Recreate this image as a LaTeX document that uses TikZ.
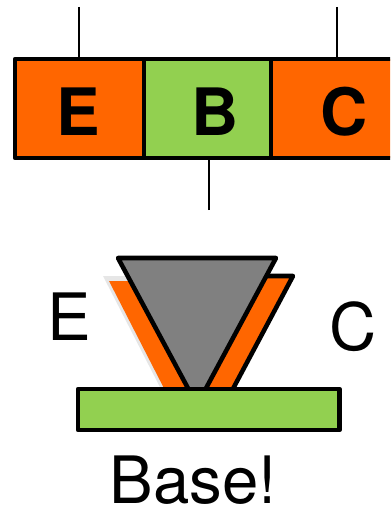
\documentclass[tikz,border=0pt]{standalone}
\usepackage{fontspec}
\setmainfont{TeX Gyre Heros}
\definecolor{dope}{HTML}{FF6600}
\definecolor{base}{HTML}{92D050}
\definecolor{cone}{HTML}{808080}
\definecolor{haze}{HTML}{E6E6E6}
\begin{document}
\begin{tikzpicture}[x=0.75pt,y=-0.75pt,
  edge/.style={line width=3.4pt,line join=round},
  cell/.style={edge,draw=black,rectangle,inner sep=0pt,minimum height=74.25pt},
  lead/.style={line width=1.5pt},
  big/.style={font=\fontsize{49}{49}\selectfont,inner sep=0pt},
  bold/.style={font=\fontsize{49}{49}\selectfont\bfseries,inner sep=0pt}]
\useasboundingbox (0,0) rectangle (390,510);
\clip (0,0) rectangle (390,510);

% transistor bar: emitter, base, collector cells
\node[cell,fill=dope,minimum width=96.75pt] (E) at (79.5,108.5) {};
\node[cell,fill=base,minimum width=95.25pt] (B) at (207.5,108.5) {};
\node[cell,fill=dope,minimum width=96.75pt] (C) at (335.5,108.5) {};
\node[bold] (Et) at (78,111.5) {E};
\node[bold] (Bt) at (215,111.5) {B};
\node[bold] (Ct) at (344,111.5) {C};

% terminal leads
\coordinate (eLead) at (79,7);
\coordinate (cLead) at (337,7);
\coordinate (bLead) at (209,210);
\draw[lead] (eLead) -- (eLead |- E.north);
\draw[lead] (cLead) -- (cLead |- C.north);
\draw[lead] (bLead) -- (bLead |- B.south);

% point-contact sketch
\fill[haze] (103,276) -- (154,276) -- (194,395) -- (164,395) -- cycle;
\fill[dope] (109,281) -- (160,281) -- (200,400) -- (170,400) -- cycle;
\draw[edge,fill=dope] (245,276) -- (293,276) -- (227,400) -- (195,400) -- cycle;
\draw[edge,fill=cone] (118,258) -- (276,258) -- (197,405) -- cycle;
\node[edge,draw=black,fill=base,rectangle,inner sep=0pt,
  minimum width=196.1pt,minimum height=30.75pt] (bar) at (208.75,409.5) {};

\node[big] (El) at (69,317) {E};
\node[big] (Cl) at (353,327) {C};
\node[big,anchor=base] (Bl) at (193,503) {Base!};
\end{tikzpicture}
\end{document}
